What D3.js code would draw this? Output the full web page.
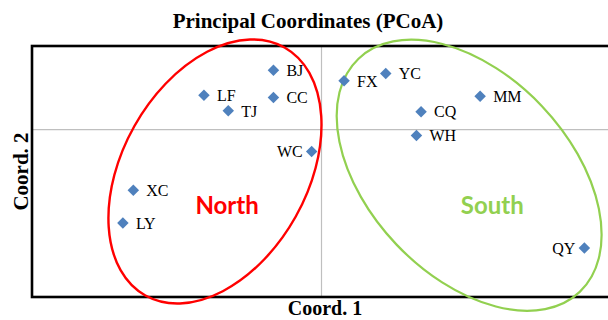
<!DOCTYPE html>
<html>
<head>
<meta charset="utf-8">
<script src="https://cdn.jsdelivr.net/npm/d3@7"></script>
<style>
  html, body { margin: 0; padding: 0; background: #fff; }
  svg { display: block; }
</style>
</head>
<body>
<svg id="chart" width="608" height="320"></svg>
<script>
// ---- data ----
const sites  = ["BJ", "CC", "LF", "TJ", "FX", "YC", "MM", "CQ", "WH", "WC", "XC", "LY", "QY"];
const coord1 = [-0.083, -0.083, -0.203, -0.161, 0.039, 0.111, 0.274, 0.172, 0.164, -0.017, -0.325, -0.343, 0.454];
const coord2 = [0.142, 0.077, 0.082, 0.045, 0.117, 0.134, 0.080, 0.043, -0.014, -0.052, -0.145, -0.223, -0.283];
const labelSide = ["right","right","right","right","right","right","right","right","right","left","right","right","left"];
const groupNames = ["North", "South"];

const title = "Principal Coordinates (PCoA)";
const xTitle = "Coord. 1";
const yTitle = "Coord. 2";

// ---- layout ----
const W = 608, H = 320;
const plot = { left: 32, right: 611, top: 46, bottom: 297 };

const x = d3.scaleLinear().domain([-0.5, 0.5]).range([plot.left, plot.right]);
const y = d3.scaleLinear().domain([-0.4, 0.2]).range([plot.bottom, plot.top]);

const svg = d3.select("#chart");

// gray zero lines
svg.append("line")
  .attr("x1", x(0)).attr("x2", x(0)).attr("y1", plot.top).attr("y2", plot.bottom)
  .attr("stroke", "#BFBFBF").attr("stroke-width", 1.2);
svg.append("line")
  .attr("x1", plot.left).attr("x2", plot.right).attr("y1", y(0)).attr("y2", y(0))
  .attr("stroke", "#BFBFBF").attr("stroke-width", 1.2);

// frame
svg.append("rect")
  .attr("x", plot.left).attr("y", plot.top)
  .attr("width", plot.right - plot.left + 4).attr("height", plot.bottom - plot.top)
  .attr("fill", "none").attr("stroke", "#000").attr("stroke-width", 2.6);

// group ellipses (annotation geometry; centre in data coords)
const ellipses = [
  { cx: -0.184, cy: -0.100, rx: 92.5, ry: 142.2, angle: 29.3, color: "#FF0000", width: 2.4 },
  { cx: 0.255, cy: -0.109, rx: 100.4, ry: 160.7, angle: -43.5, color: "#92D050", width: 2.2 }
];
svg.selectAll("ellipse.grp").data(ellipses).join("ellipse")
  .attr("class", "grp")
  .attr("cx", 0).attr("cy", 0)
  .attr("rx", d => d.rx).attr("ry", d => d.ry)
  .attr("transform", d => `translate(${x(d.cx)},${y(d.cy)}) rotate(${d.angle})`)
  .attr("fill", "none").attr("stroke", d => d.color).attr("stroke-width", d => d.width);

// group labels
const groupPos = [[-0.163, -0.202], [0.295, -0.202]];
const groupColors = ["#FF0000", "#92D050"];
svg.selectAll("text.grp").data(groupNames).join("text")
  .attr("class", "grp")
  .attr("x", (d, i) => x(groupPos[i][0]))
  .attr("y", (d, i) => y(groupPos[i][1]))
  .attr("text-anchor", "middle")
  .attr("font-family", "Lato, 'Open Sans', sans-serif")
  .attr("font-weight", "bold")
  .attr("font-size", 24)
  .attr("fill", (d, i) => groupColors[i])
  .text(d => d);

// points
const pts = sites.map((s, i) => ({ s, x: coord1[i], y: coord2[i], side: labelSide[i] }));
const sym = d3.symbol().type(d3.symbolSquare).size(66);
svg.selectAll("path.pt").data(pts).join("path")
  .attr("class", "pt")
  .attr("d", sym)
  .attr("transform", d => `translate(${x(d.x)},${y(d.y)}) rotate(45)`)
  .attr("fill", "#4F81BD");

svg.selectAll("text.lbl").data(pts).join("text")
  .attr("class", "lbl")
  .attr("x", d => x(d.x) + (d.side === "right" ? 13 : -9))
  .attr("y", d => y(d.y) + 5.8)
  .attr("text-anchor", d => d.side === "right" ? "start" : "end")
  .attr("font-family", "'Liberation Serif', 'Times New Roman', serif")
  .attr("font-size", 16)
  .attr("fill", "#000")
  .text(d => d.s);

// titles
svg.append("text")
  .attr("x", 308).attr("y", 28)
  .attr("text-anchor", "middle")
  .attr("font-family", "'Liberation Serif', 'Times New Roman', serif")
  .attr("font-weight", "bold").attr("font-size", 21)
  .text(title);

svg.append("text")
  .attr("x", 325).attr("y", 315)
  .attr("text-anchor", "middle")
  .attr("font-family", "'Liberation Serif', 'Times New Roman', serif")
  .attr("font-weight", "bold").attr("font-size", 20)
  .text(xTitle);

svg.append("text")
  .attr("transform", `translate(28,${(plot.top + plot.bottom) / 2}) rotate(-90)`)
  .attr("text-anchor", "middle")
  .attr("font-family", "'Liberation Serif', 'Times New Roman', serif")
  .attr("font-weight", "bold").attr("font-size", 21)
  .text(yTitle);
</script>
</body>
</html>
